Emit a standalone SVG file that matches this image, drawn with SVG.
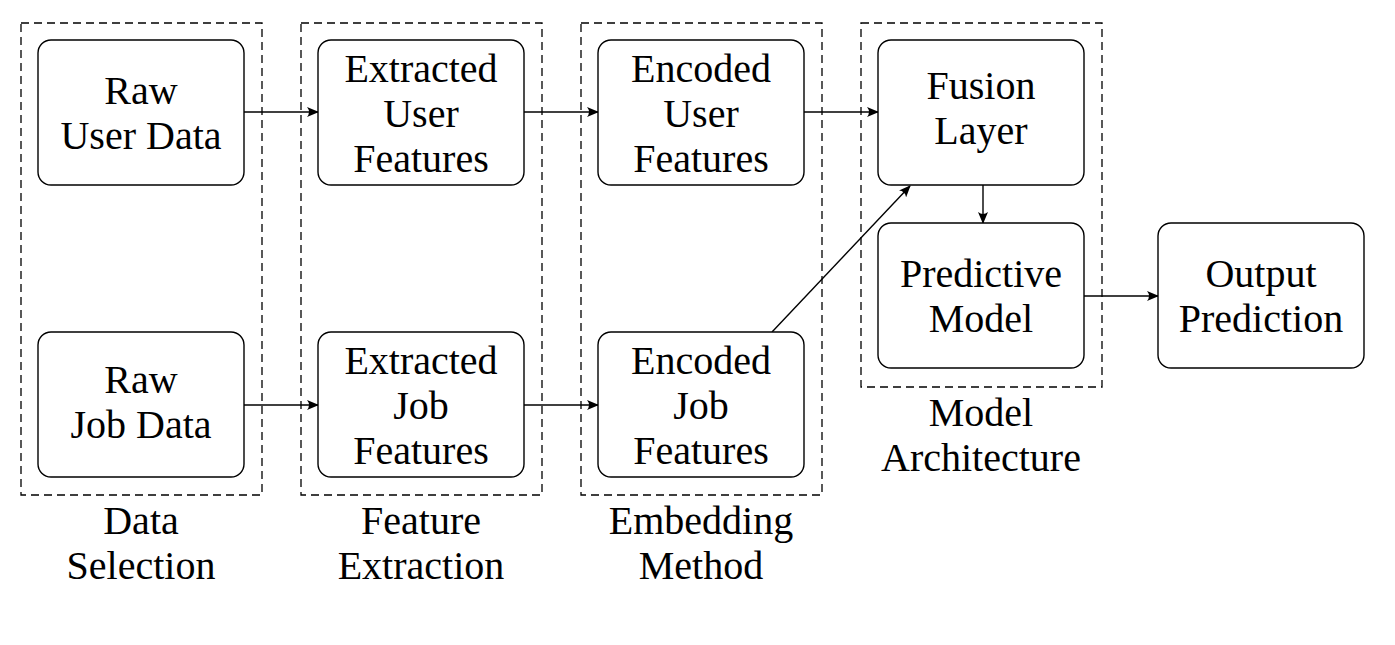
<svg xmlns="http://www.w3.org/2000/svg" width="1395" height="645" viewBox="0 0 1395 645">
<style>
.grp{fill:none;stroke:#000;stroke-width:1.3;stroke-dasharray:8,5}
.box{fill:#fff;stroke:#000;stroke-width:1.4}
text{font-family:"Liberation Serif","Times New Roman",serif;font-size:40px;fill:#000;text-anchor:middle}
.con{fill:none;stroke:#000;stroke-width:1.4}
</style>
<defs>
<marker id="ah" viewBox="0 0 12 10" refX="11" refY="5" markerWidth="12" markerHeight="10" markerUnits="userSpaceOnUse" orient="auto">
<path d="M0,0 Q4,5 0,10 L12,5 Z" fill="#000"/>
</marker>
</defs>
<rect width="1395" height="645" fill="#fff"/>
<g id="group-data-selection">
<rect class="grp" x="21" y="23" width="241" height="472"/>
<text x="141" y="534">Data</text>
<text x="141" y="579">Selection</text>
</g>
<g id="group-feature-extraction">
<rect class="grp" x="301" y="23" width="241" height="472"/>
<text x="421" y="534">Feature</text>
<text x="421" y="579">Extraction</text>
</g>
<g id="group-embedding-method">
<rect class="grp" x="581" y="23" width="241" height="472"/>
<text x="701" y="534">Embedding</text>
<text x="701" y="579">Method</text>
</g>
<g id="group-model-architecture">
<rect class="grp" x="861" y="23" width="241" height="364"/>
<text x="981" y="426">Model</text>
<text x="981" y="471">Architecture</text>
</g>
<g id="connectors">
<line class="con" x1="244" y1="112" x2="318" y2="112" marker-end="url(#ah)"/>
<line class="con" x1="244" y1="405" x2="318" y2="405" marker-end="url(#ah)"/>
<line class="con" x1="524" y1="112" x2="598" y2="112" marker-end="url(#ah)"/>
<line class="con" x1="524" y1="405" x2="598" y2="405" marker-end="url(#ah)"/>
<line class="con" x1="804" y1="112" x2="878" y2="112" marker-end="url(#ah)"/>
<line class="con" x1="772" y1="332" x2="910" y2="186" marker-end="url(#ah)"/>
<line class="con" x1="983" y1="185" x2="983" y2="223" marker-end="url(#ah)"/>
<line class="con" x1="1084" y1="296" x2="1158" y2="296" marker-end="url(#ah)"/>
</g>
<g id="raw-user-data">
<rect class="box" x="38" y="40" width="206" height="145" rx="13"/>
<text x="141" y="104">Raw</text>
<text x="141" y="149">User Data</text>
</g>
<g id="raw-job-data">
<rect class="box" x="38" y="332" width="206" height="145" rx="13"/>
<text x="141" y="393">Raw</text>
<text x="141" y="438">Job Data</text>
</g>
<g id="extracted-user-features">
<rect class="box" x="318" y="40" width="206" height="145" rx="13"/>
<text x="421" y="82">Extracted</text>
<text x="421" y="127">User</text>
<text x="421" y="172">Features</text>
</g>
<g id="extracted-job-features">
<rect class="box" x="318" y="332" width="206" height="145" rx="13"/>
<text x="421" y="374">Extracted</text>
<text x="421" y="419">Job</text>
<text x="421" y="464">Features</text>
</g>
<g id="encoded-user-features">
<rect class="box" x="598" y="40" width="206" height="145" rx="13"/>
<text x="701" y="82">Encoded</text>
<text x="701" y="127">User</text>
<text x="701" y="172">Features</text>
</g>
<g id="encoded-job-features">
<rect class="box" x="598" y="332" width="206" height="145" rx="13"/>
<text x="701" y="374">Encoded</text>
<text x="701" y="419">Job</text>
<text x="701" y="464">Features</text>
</g>
<g id="fusion-layer">
<rect class="box" x="878" y="40" width="206" height="145" rx="13"/>
<text x="981" y="99">Fusion</text>
<text x="981" y="144">Layer</text>
</g>
<g id="predictive-model">
<rect class="box" x="878" y="223" width="206" height="145" rx="13"/>
<text x="981" y="287">Predictive</text>
<text x="981" y="332">Model</text>
</g>
<g id="output-prediction">
<rect class="box" x="1158" y="223" width="206" height="145" rx="13"/>
<text x="1261" y="287">Output</text>
<text x="1261" y="332">Prediction</text>
</g>
</svg>
